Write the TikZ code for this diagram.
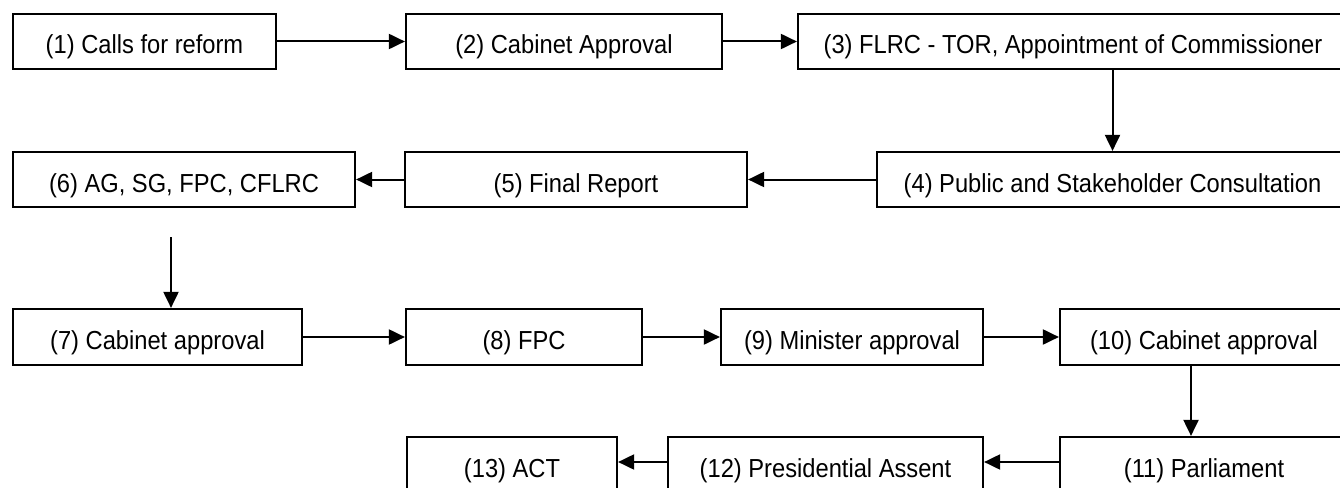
\documentclass[tikz,border=0pt]{standalone}
\usepackage{fontspec}
\usepackage{graphicx}
\setmainfont{Liberation Sans}
\usetikzlibrary{arrows.meta}
\newcommand\tallt[1]{\scalebox{1}[1.1]{#1}}
\begin{document}
\begin{tikzpicture}[x=1pt,y=-1pt,
  box/.style={draw=black,line width=2.2pt,fill=white,inner sep=0pt,
    font=\fontsize{23.7}{28}\selectfont,text height=25pt,text depth=0pt},
  arr/.style={line width=2pt,-{Triangle[length=16pt,width=15pt]}}]
\clip (0,0) rectangle (1340,487);
\fill[white] (0,0) rectangle (1340,487);
% row 1
\node[box,minimum width=263pt,minimum height=55pt] (b1) at (144.5,41.5) {\tallt{(1) Calls for reform}};
\node[box,minimum width=316pt,minimum height=55pt] (b2) at (564,41.5) {\tallt{(2) Cabinet Approval}};
\node[box,minimum width=550pt,minimum height=55pt] (b3) at (1073,41.5) {\tallt{(3) FLRC - TOR, Appointment of Commissioner}};
% row 2
\node[box,minimum width=471pt,minimum height=55pt] (b4) at (1112.5,179.5) {\tallt{(4) Public and Stakeholder Consultation}};
\node[box,minimum width=342pt,minimum height=55pt] (b5) at (576,179.5) {\tallt{(5) Final Report}};
\node[box,minimum width=342pt,minimum height=55pt] (b6) at (184,179.5) {\tallt{(6) AG, SG, FPC, CFLRC}};
% row 3
\node[box,minimum width=289pt,minimum height=56pt] (b7) at (157.5,337) {\tallt{(7) Cabinet approval}};
\node[box,minimum width=236pt,minimum height=56pt] (b8) at (524,337) {\tallt{(8) FPC}};
\node[box,minimum width=262pt,minimum height=56pt] (b9) at (852,337) {\tallt{(9) Minister approval}};
\node[box,minimum width=288pt,minimum height=56pt] (b10) at (1204,337) {\tallt{(10) Cabinet approval}};
% row 4
\node[box,minimum width=288pt,minimum height=56pt] (b11) at (1204,465) {\tallt{(11) Parliament}};
\node[box,minimum width=315pt,minimum height=56pt] (b12) at (825.5,465) {\tallt{(12) Presidential Assent}};
\node[box,minimum width=210pt,minimum height=56pt] (b13) at (512,465) {\tallt{(13) ACT}};
% connectors
\draw[arr] (b1.east) -- (b2.west);
\draw[arr] (b2.east) -- (b3.west);
\draw[arr] (b4.north |- b3.south) -- (b4.north);
\draw[arr] (b4.west) -- (b5.east);
\draw[arr] (b5.west) -- (b6.east);
\coordinate (c6) at (171,237);
\draw[arr] (c6) -- (c6 |- b7.north);
\draw[arr] (b7.east) -- (b8.west);
\draw[arr] (b8.east) -- (b9.west);
\draw[arr] (b9.east) -- (b10.west);
\draw[arr] ([xshift=-13pt]b10.south) -- ([xshift=-13pt]b11.north);
\draw[arr] ([yshift=3pt]b11.west) -- ([yshift=3pt]b12.east);
\draw[arr] ([yshift=3pt]b12.west) -- ([yshift=3pt]b13.east);
\end{tikzpicture}
\end{document}
